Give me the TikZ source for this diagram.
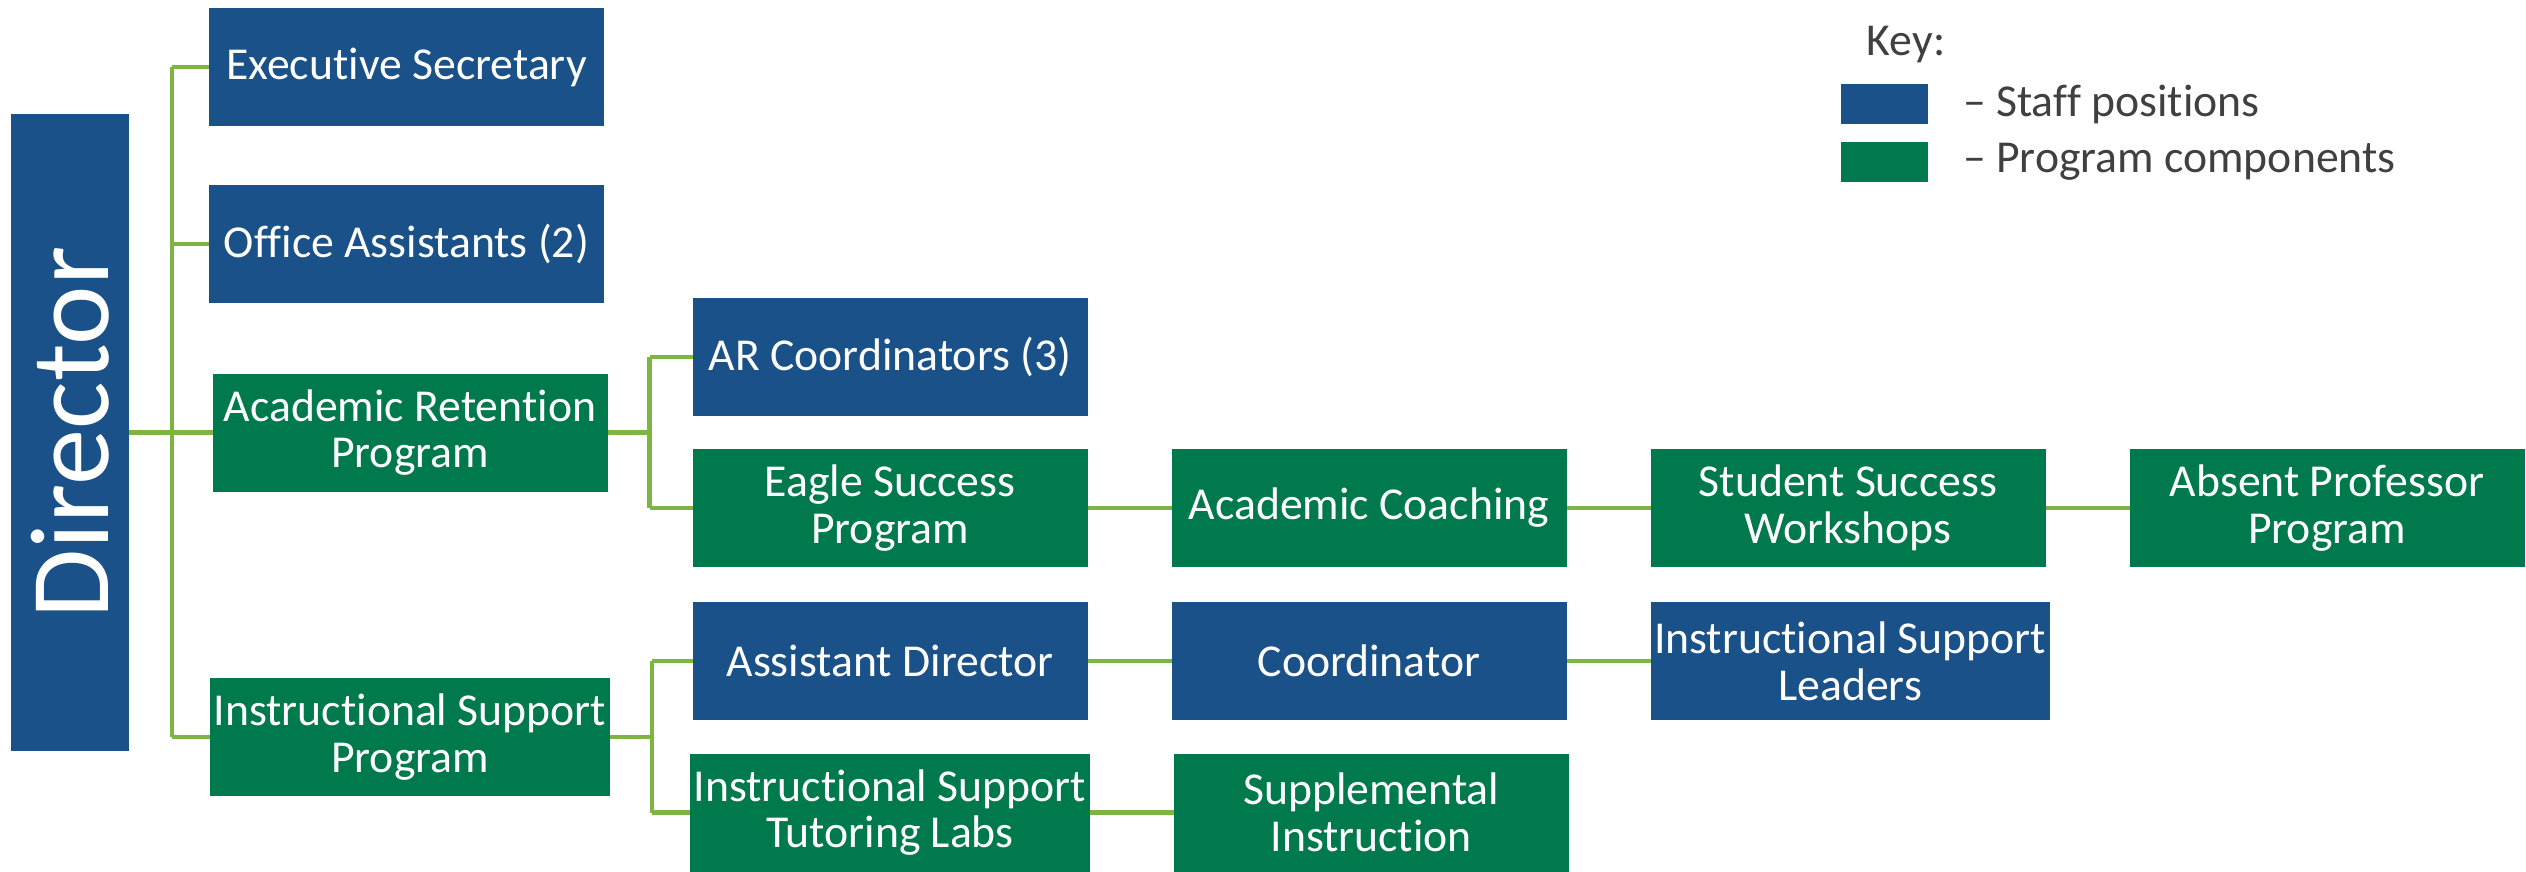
\documentclass[tikz,border=0pt]{standalone}
\usepackage{fontspec}
\setmainfont{Carlito}[Ligatures={TeX,NoCommon}]
\usetikzlibrary{positioning,calc}
\definecolor{staffblue}{RGB}{26,81,136}
\definecolor{progreen}{RGB}{0,122,76}
\definecolor{linkgreen}{RGB}{124,181,66}
\definecolor{keygray}{RGB}{64,64,64}

\begin{document}
\begin{tikzpicture}[
    every node/.style={font=\fontsize{13}{13.3}\selectfont},
    box/.style={
        rectangle,
        inner sep=1pt,
        outer sep=0pt,
        minimum width=3.95cm,
        minimum height=1.18cm,
        align=center,
        text=white
    },
    staff/.style={box, fill=staffblue},
    prog/.style={box, fill=progreen},
    link/.style={draw=linkgreen, line width=1.2pt},
    keytext/.style={anchor=west, text=keygray, font=\fontsize{13}{14}\selectfont}
]
\useasboundingbox (0,0) rectangle (25.26,-8.71);

% Director column
\node[fill=staffblue, minimum width=1.18cm, minimum height=6.37cm, inner sep=0pt, outer sep=0pt] (dir) at (0.70,-4.325) {};
\node[rotate=90, text=white, font=\fontsize{32}{36}\selectfont] (dirtext) at (dir.center) {Director};

% First level
\node[staff] (exec) at (4.065,-0.67) {Executive Secretary};
\node[staff] (office) at (4.065,-2.44) {Office Assistants (2)};
\node[prog] (arp) at (4.10,-4.325) {Academic Retention\\Program};
\node[prog] (isp) at (4.10,-7.37) {Instructional Support\\Program};

% Academic retention branch
\node[staff] (arcoord) at (8.90,-3.57) {AR Coordinators (3)};
\node[prog] (eagle) at (8.90,-5.08) {Eagle Success\\Program};
\node[prog, right=0.84cm of eagle] (coaching) {Academic Coaching};
\node[prog, right=0.84cm of coaching] (workshops) {Student Success\\Workshops};
\node[prog, right=0.84cm of workshops] (absent) {Absent Professor\\Program};

% Instructional support branch
\node[staff] (asstdir) at (8.90,-6.61) {Assistant Director};
\node[staff, right=0.84cm of asstdir] (coord) {Coordinator};
\node[staff, right=0.84cm of coord] (leaders) {Instructional Support\\Leaders};
\node[prog] (labs) at (8.90,-8.125) {Instructional Support\\Tutoring Labs};
\node[prog, right=0.84cm of labs] (suppl) {Supplemental\\Instruction};

% Connectors from director
\coordinate (trunk) at (1.72,-4.325);
\draw[link] (dir.east) -- (trunk);
\draw[link] (trunk |- exec) -- (trunk |- isp);
\foreach \n in {exec,office,arp,isp}
    \draw[link] (trunk |- \n) -- (\n.west);

% Connectors from the two programs
\coordinate (arfork) at ($(arp.east)+(0.42,0)$);
\coordinate (isfork) at ($(isp.east)+(0.42,0)$);
\draw[link] (arp.east) -- (arfork);
\draw[link] (arfork |- arcoord) -- (arfork |- eagle);
\draw[link] (arfork |- arcoord) -- (arcoord.west);
\draw[link] (arfork |- eagle) -- (eagle.west);
\draw[link] (isp.east) -- (isfork);
\draw[link] (isfork |- asstdir) -- (isfork |- labs);
\draw[link] (isfork |- asstdir) -- (asstdir.west);
\draw[link] (isfork |- labs) -- (labs.west);

% Chains to the right
\draw[link] (eagle) -- (coaching);
\draw[link] (coaching) -- (workshops);
\draw[link] (workshops) -- (absent);
\draw[link] (asstdir) -- (coord);
\draw[link] (coord) -- (leaders);
\draw[link] (labs) -- (suppl);

% Key
\node[text=keygray, font=\fontsize{13}{14}\selectfont] (keytitle) at (19.06,-0.45) {Key:};
\node[fill=staffblue, minimum width=0.87cm, minimum height=0.40cm, inner sep=0pt] (keystaff) at (18.845,-1.04) {};
\node[fill=progreen, minimum width=0.87cm, minimum height=0.40cm, inner sep=0pt] (keyprog) at (18.845,-1.62) {};
\node[keytext, right=0.22cm of keystaff] (staffnote) {-- Staff positions};
\node[keytext, right=0.22cm of keyprog] (prognote) {-- Program components};

\end{tikzpicture}
\end{document}
